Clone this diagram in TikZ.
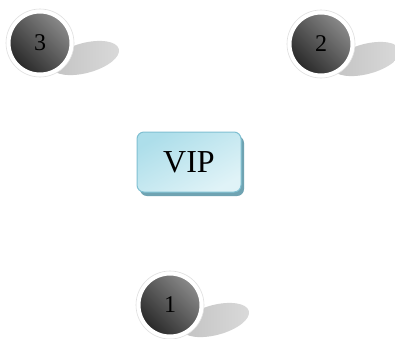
\documentclass[tikz,border=0pt]{standalone}
\usepackage{fontspec}
\setmainfont{Liberation Serif}
\usetikzlibrary{shapes.geometric}
\definecolor{ballLight}{HTML}{8A8A8A}
\definecolor{ballDark}{HTML}{282828}
\definecolor{shadowGray}{HTML}{C2C2C2}
\definecolor{shadowLight}{HTML}{DADADA}
\definecolor{vipBorder}{HTML}{80C0D2}
\definecolor{vipTop}{HTML}{ADDEEA}
\definecolor{vipBottom}{HTML}{E0F3F7}
\definecolor{vipShadow}{HTML}{6FA3B2}
\tikzset{
  ball/.style={circle, minimum size=62pt, inner sep=0pt, draw=white, line width=3pt,
    shading=axis, top color=ballLight, bottom color=ballDark, shading angle=-45,
    font=\fontsize{24}{24}\selectfont, text=black},
  ballrim/.style={circle, minimum size=68pt, inner sep=0pt, draw=gray!25, line width=0.6pt, fill=white},
  ballshadow/.style={ellipse, minimum width=70pt, minimum height=30pt, inner sep=0pt,
    shading=axis, left color=shadowGray, right color=shadowLight, rotate=15, draw=none},
  vipbox/.style={rectangle, rounded corners=7pt, minimum width=104pt, minimum height=60pt,
    draw=vipBorder, line width=1pt, shading=axis, top color=vipTop, bottom color=vipBottom,
    shading angle=30, font=\fontsize{32}{32}\selectfont},
  vipshadow/.style={rectangle, rounded corners=7pt, minimum width=104pt, minimum height=60pt,
    fill=vipShadow, draw=none}
}
\begin{document}
\begin{tikzpicture}[x=1pt,y=-1pt]
\useasboundingbox (0,0) rectangle (395,338);
\fill[white] (0,0) rectangle (395,338);
% shadows
\node[ballshadow] (s3) at (85,58) {};
\node[ballshadow] (s2) at (366,59) {};
\node[ballshadow] (s1) at (215,320) {};
% balls
\node[ballrim] (r3) at (40,43) {};
\node[ball] (n3) at (40,43) {\raisebox{-4pt}{3}};
\node[ballrim] (r2) at (321,44) {};
\node[ball] (n2) at (321,44) {\raisebox{-4pt}{2}};
\node[ballrim] (r1) at (170,305) {};
\node[ball] (n1) at (170,305) {\raisebox{-4pt}{1}};
% VIP box
\node[vipshadow] (vs) at (192,166) {};
\node[vipbox] (vip) at (189,162) {VIP};
\end{tikzpicture}
\end{document}
